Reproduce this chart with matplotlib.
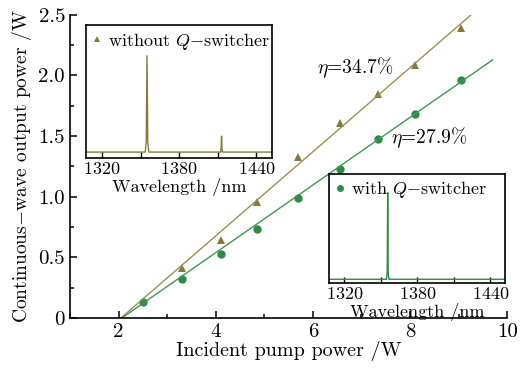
import numpy as np
import matplotlib
matplotlib.use("Agg")
import matplotlib.pyplot as plt
from matplotlib.lines import Line2D
from matplotlib.ticker import MultipleLocator, FuncFormatter

plt.rcParams['font.family'] = ['cmr10', 'DejaVu Serif']
plt.rcParams['mathtext.fontset'] = 'cm'
plt.rcParams['axes.formatter.use_mathtext'] = True
plt.rcParams['axes.unicode_minus'] = False

OLIVE = '#857a3c'
OLIVE_LINE = '#9c8f52'
GREEN = '#2f8a45'
GREEN_LINE = '#3c9a52'

# without Q-switcher (triangles)
pump_noq = [3.3, 4.1, 4.85, 5.7, 6.55, 7.35, 8.1, 9.05]
out_noq = [0.41, 0.64, 0.96, 1.33, 1.61, 1.85, 2.09, 2.39]
# with Q-switcher (circles)
pump_q = [2.5, 3.3, 4.1, 4.85, 5.7, 6.55, 7.35, 8.1, 9.05]
out_q = [0.13, 0.32, 0.53, 0.73, 0.99, 1.23, 1.48, 1.68, 1.96]

# linear fits: slope, threshold, end of drawn line
slope_noq, thr_noq, end_noq = 0.347, 2.05, 9.3
slope_q, thr_q, end_q = 0.279, 2.07, 9.7

# spectra (inset)
wl_noq = [1308, 1353.6, 1354.4, 1355.0, 1355.6, 1356.4, 1412.4, 1412.9, 1413.3, 1413.8, 1452]
sp_noq = [0.045, 0.045, 0.12, 0.77, 0.12, 0.045, 0.045, 0.165, 0.06, 0.045, 0.045]
wl_q = [1307, 1354.6, 1355.2, 1355.6, 1356.0, 1356.6, 1452]
sp_q = [0.035, 0.035, 0.10, 0.83, 0.10, 0.035, 0.035]

fig = plt.figure(figsize=(5.3, 3.71), dpi=100)
ax = fig.add_axes([0.132, 0.143, 0.825, 0.817])

ax.plot(pump_noq, out_noq, '^', color=OLIVE, ms=5.5, mew=0)
ax.plot(pump_q, out_q, 'o', color=GREEN, ms=6, mew=0)
xf = np.array([thr_noq, end_noq])
ax.plot(xf, slope_noq * (xf - thr_noq), color=OLIVE_LINE, lw=1.0)
xf = np.array([thr_q, end_q])
ax.plot(xf, slope_q * (xf - thr_q), color=GREEN_LINE, lw=1.0)

ax.set_xlim(1, 10)
ax.set_ylim(0, 2.5)
ax.spines['top'].set_visible(False)
ax.spines['right'].set_visible(False)
for s in ('left', 'bottom'):
    ax.spines[s].set_linewidth(1.2)
ax.xaxis.set_major_locator(MultipleLocator(2))
ax.xaxis.set_minor_locator(MultipleLocator(1))
ax.yaxis.set_major_locator(MultipleLocator(0.5))
ax.yaxis.set_minor_locator(MultipleLocator(0.25))
ax.yaxis.set_major_formatter(FuncFormatter(lambda v, p: '0' if v == 0 else '%.1f' % v))
ax.xaxis.set_major_formatter(FuncFormatter(lambda v, p: '%d' % v))
ax.tick_params(which='both', direction='in', labelsize=15, width=1.1)
ax.tick_params(which='major', length=5)
ax.tick_params(which='minor', length=3)
ax.set_xlabel('Incident pump power /W', fontsize=14.5, labelpad=0)
ax.set_ylabel(r'Continuous$-$wave output power /W', fontsize=14, labelpad=3)

ax.text(6.88, 2.06, r'$\eta$=34.7%', fontsize=14, ha='center', va='center')
ax.text(8.4, 1.49, r'$\eta$=27.9%', fontsize=14, ha='center', va='center')


def make_inset(rect, wl, sp, color, marker, label):
    ia = fig.add_axes(rect)
    ia.plot(wl, sp, color=color, lw=1.0)
    ia.set_xlim(1307.5, 1452)
    ia.set_ylim(0, 1)
    ia.set_yticks([])
    ia.xaxis.set_major_locator(MultipleLocator(60))
    ia.xaxis.set_minor_locator(MultipleLocator(30))
    ia.tick_params(which='both', direction='in', labelsize=13, pad=2, width=1)
    ia.tick_params(which='major', length=4)
    ia.tick_params(which='minor', length=4)
    for s in ia.spines.values():
        s.set_linewidth(1.2)
    ia.set_xlabel('Wavelength /nm', fontsize=13, labelpad=0.5)
    h = Line2D([], [], ls='none', marker=marker, color=color, ms=5, mew=0)
    ia.legend([h], [label], loc='upper left', frameon=False, fontsize=13,
              handlelength=0.6, handletextpad=0.3, borderaxespad=0.1,
              borderpad=0.2)
    return ia


make_inset([0.162, 0.574, 0.351, 0.358], wl_noq, sp_noq, OLIVE, '^',
           r'without $Q$$-$switcher')
make_inset([0.621, 0.237, 0.332, 0.294], wl_q, sp_q, GREEN, 'o',
           r'with $Q$$-$switcher')

fig.savefig('out.png', dpi=100)
